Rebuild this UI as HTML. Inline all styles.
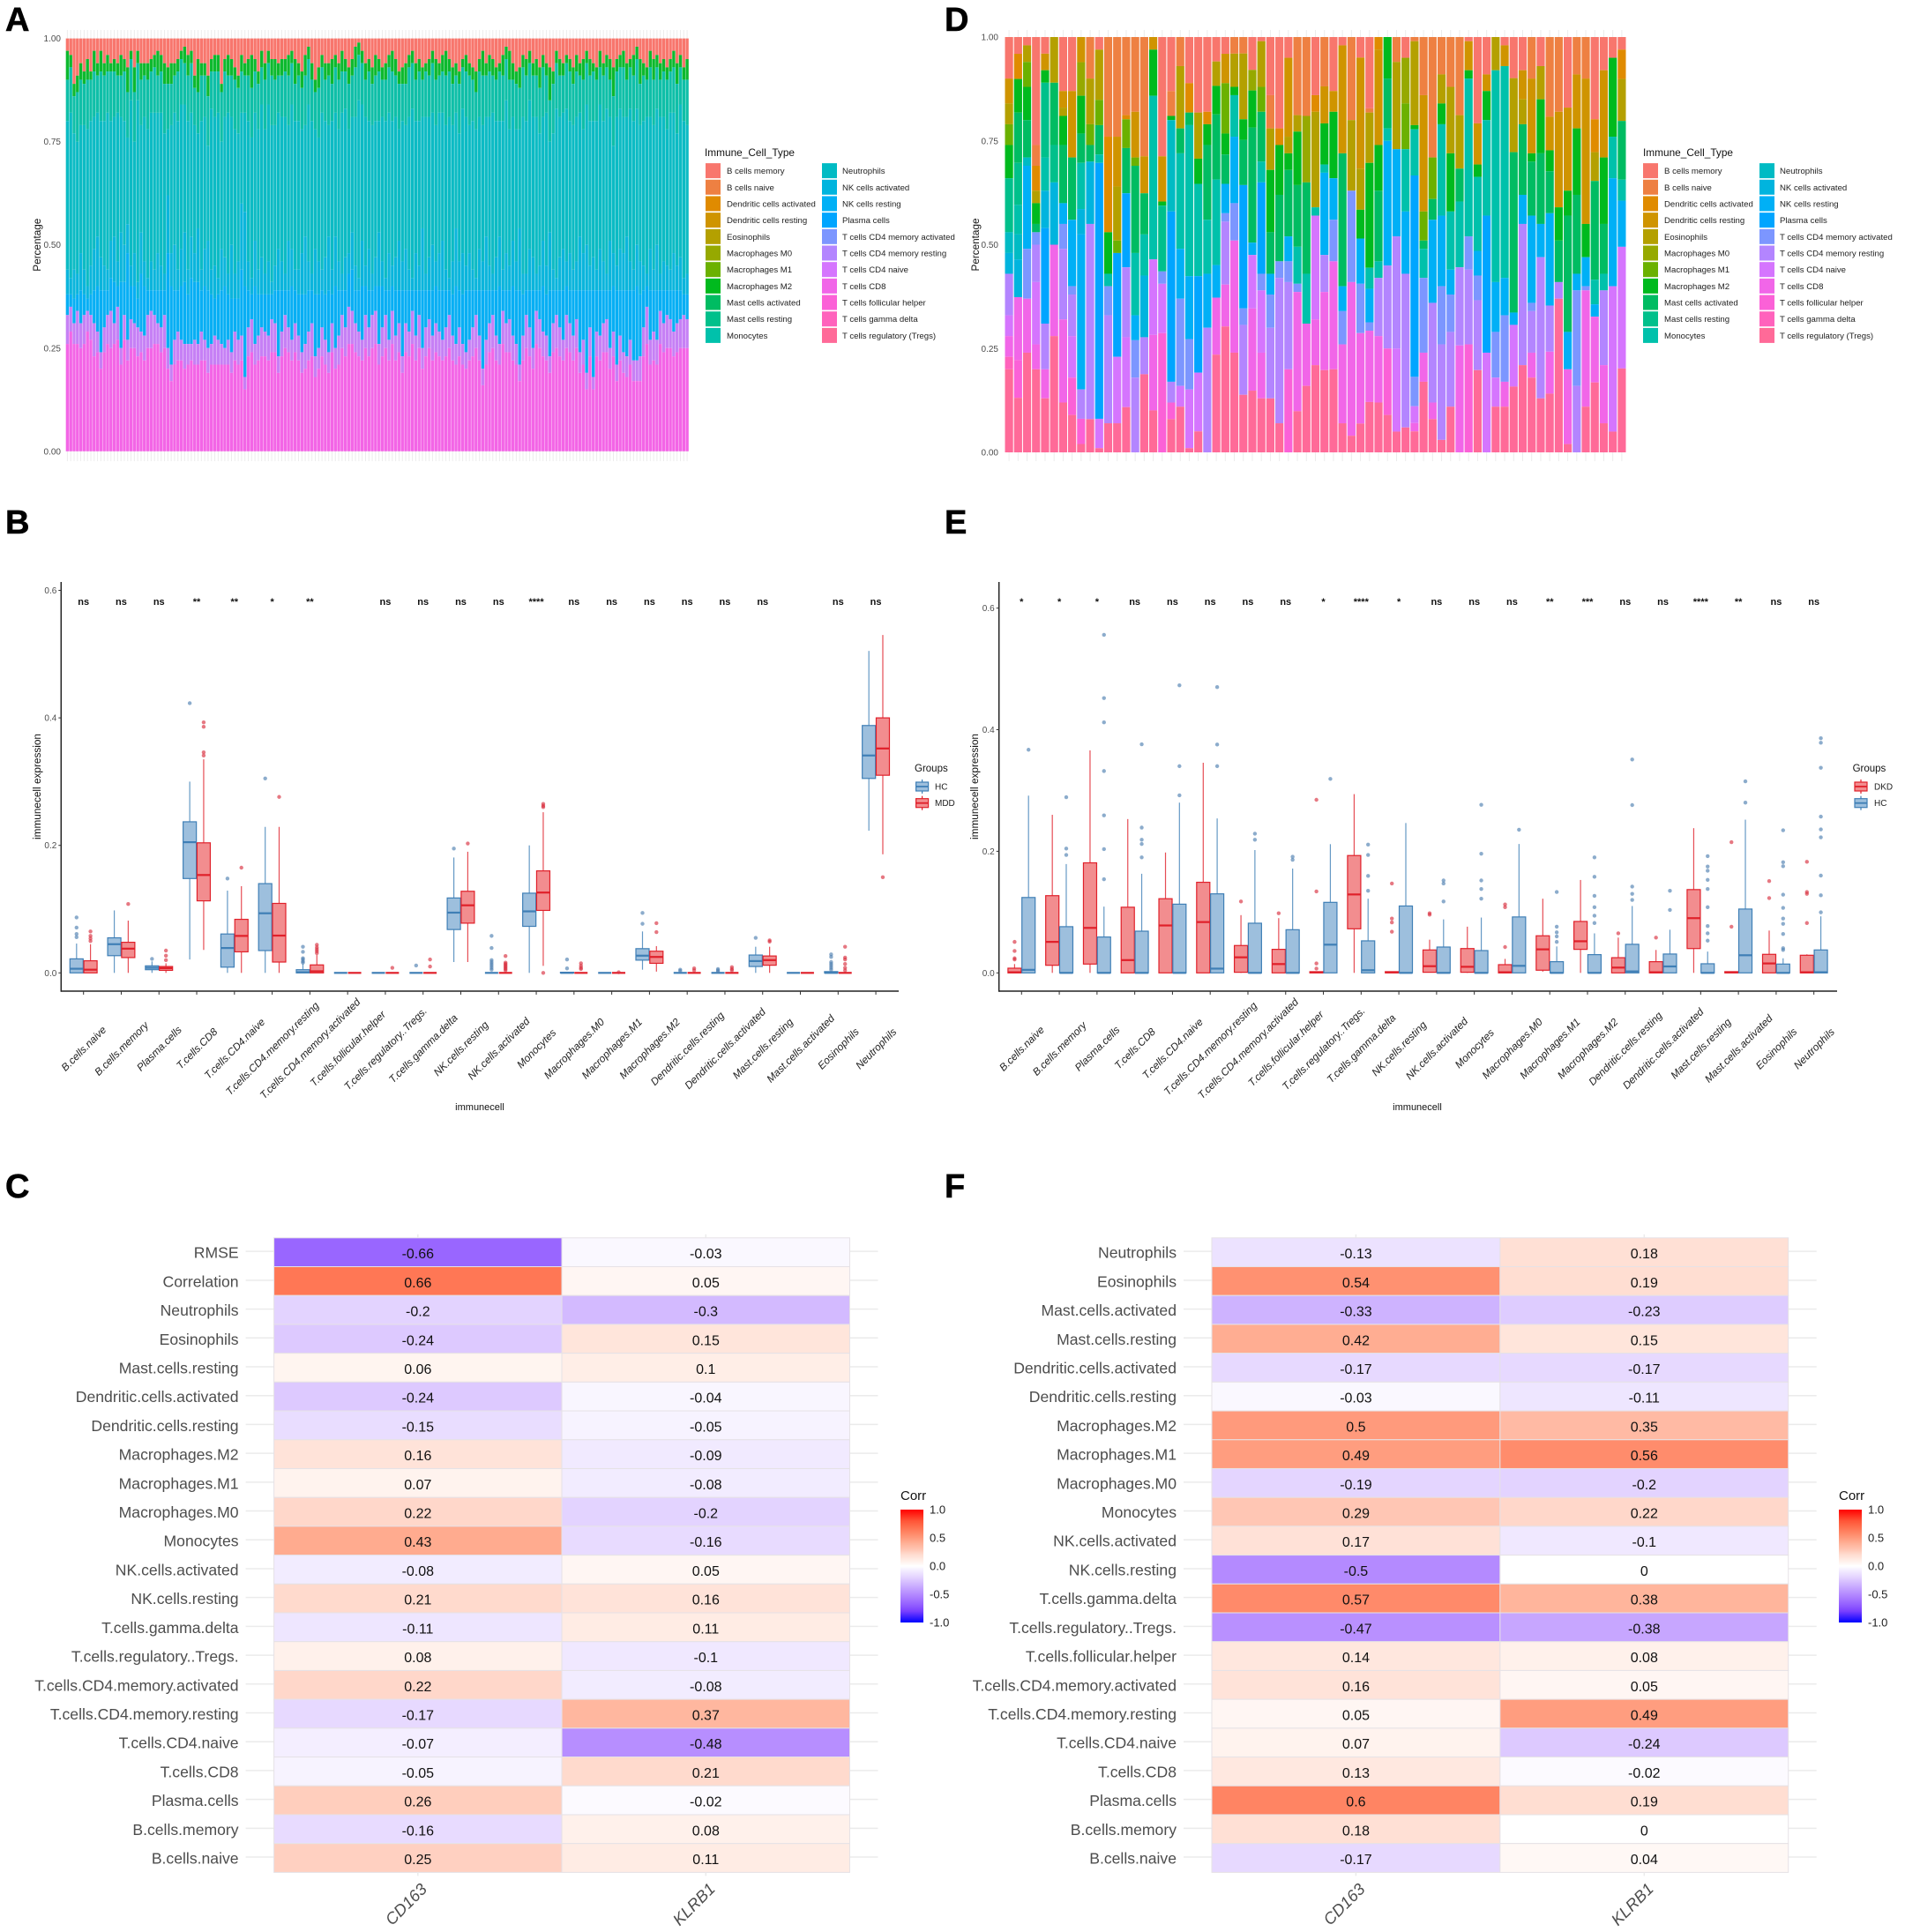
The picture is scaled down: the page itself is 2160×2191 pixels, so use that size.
<!DOCTYPE html>
<html lang="en">
<head>
<meta charset="utf-8">
<title>Immune cell infiltration figure</title>
<style>
html,body{margin:0;padding:0;background:#fff;}
svg{display:block;font-family:"Liberation Sans",sans-serif;}
.panel-letter{font-size:38px;font-weight:bold;fill:#000;stroke:#000;stroke-width:0.6px;}
</style>
</head>
<body>
<svg id="figure" xmlns="http://www.w3.org/2000/svg" width="2160" height="2191" viewBox="0 0 2160 2191">
<rect width="2160" height="2191" fill="#fff"/>
<text class="panel-letter" x="6" y="35">A</text>
<text class="panel-letter" x="1071" y="35">D</text>
<text class="panel-letter" x="6" y="605">B</text>
<text class="panel-letter" x="1071" y="605">E</text>
<text class="panel-letter" x="6" y="1358">C</text>
<text class="panel-letter" x="1071" y="1358">F</text>
</svg>
<script>
/* ===== Legend data for stacked bars ===== */
const cellTypes=["B cells memory","B cells naive","Dendritic cells activated","Dendritic cells resting","Eosinophils","Macrophages M0","Macrophages M1","Macrophages M2","Mast cells activated","Mast cells resting","Monocytes","Neutrophils","NK cells activated","NK cells resting","Plasma cells","T cells CD4 memory activated","T cells CD4 memory resting","T cells CD4 naive","T cells CD8","T cells follicular helper","T cells gamma delta","T cells regulatory (Tregs)"];
const cellColors=["#F8766D","#EE8042","#E08B00","#CF9400","#B4A000","#96A900","#6BB100","#00BA1E","#00BC62","#00C08B","#00C1AB","#00BBC4","#00B4DE","#00B0F6","#00A5FF","#7C96FF","#B385FF","#D575FE","#F166E8","#FB61D7","#FF62BC","#FF6A98"];
const stackTicks=[0,0.25,0.5,0.75,1];
const stackTickLabels=["0.00","0.25","0.50","0.75","1.00"];

/* ===== Panel A series (percent per sample) ===== */
const aMemory=[3,4,11,9,6,8,5,8,3,6,3,6,4,6,5,6,4,5,7,3,
7,3,6,6,6,5,4,3,4,6,7,6,6,5,3,2,4,3,9,5,
6,6,9,5,4,4,11,5,4,5,7,9,4,6,5,4,5,8,3,6,
3,5,5,6,5,5,4,3,5,6,8,4,2,6,10,7,4,6,6,5,
4,6,3,5,7,5,2,1,3,6,5,7,4,5,7,6,4,3,5,8,
7,6,4,3,6,5,7,6,5,3,5,6,4,3,5,7,6,8,5,4,
6,7,8,5,3,6,4,5,7,6,4,2,3,6,8,7,4,5,3,6,
5,7,4,6,7,8,3,5,6,4,5,7,4,6,5,3,5,6,7,3,
6,4,5,7,5,4,3,6,5,4,2,5,6,7,3,5,4,6,5,7,
5,3,6,4,7,5];
const aM2=[7,3,3,4,4,3,5,2,5,3,5,3,4,2,3,3,5,3,6,2,
6,3,4,3,4,3,3,6,4,5,4,5,3,3,2,4,5,3,3,8,
3,3,5,3,4,4,2,3,5,4,3,3,4,3,4,8,3,3,4,4,
3,4,5,3,4,3,5,3,6,3,4,5,3,4,3,5,3,4,3,6,
3,4,5,3,4,4,5,3,3,4,3,4,5,3,3,4,3,5,4,3,
4,5,3,3,4,3,3,2,4,3,5,3,4,6,3,4,3,3,2,4,
3,3,5,3,6,3,4,4,3,2,5,3,7,4,3,5,3,4,3,3,
4,5,3,3,8,3,3,4,3,2,3,4,4,3,5,3,4,2,3,4,
3,3,5,7,3,3,4,4,2,5,3,6,3,3,4,5,3,4,3,3,
3,4,5,3,3,5];
const aMonocytes=[10,11,9,12,11,10,12,10,11,9,12,11,10,12,11,9,10,12,11,10,
12,9,11,10,12,10,11,9,10,12,11,10,9,12,11,10,11,12,9,10,
11,10,12,9,11,10,12,11,9,10,12,11,10,9,11,12,10,11,9,12,
10,12,11,9,10,11,12,10,9,11,10,12,11,10,9,12,11,10,12,9,
11,12,10,9,11,10,12,11,10,9,12,10,11,12,9,10,11,12,10,11,
9,10,12,11,10,12,9,11,10,12,11,9,10,12,11,10,9,12,10,11,
12,10,9,11,12,10,11,9,10,12,11,10,12,9,11,10,12,11,9,10,
10,11,12,9,10,12,11,10,9,11,12,10,11,9,12,10,11,12,10,9,
11,10,9,12,11,10,12,9,10,11,12,10,11,9,12,11,10,9,11,12,
10,11,12,9,10,11];
const aNkActivated=[6,4,7,5,9,6,3,7,10,12,8,6,5,9,11,6,12,9,7,5,
8,4,10,6,3,7,5,9,6,4,14,8,11,5,9,12,6,10,7,13,
5,9,12,6,8,4,10,7,5,13,6,9,16,18,7,4,11,6,9,5,
8,3,6,10,7,4,12,9,5,6,10,14,7,4,11,8,5,9,13,6,
12,7,4,8,5,9,6,3,11,5,10,4,7,13,6,3,9,5,8,12,
7,10,5,3,9,6,15,4,8,11,6,9,12,5,3,8,14,7,10,6,
9,5,3,10,7,13,6,4,8,12,5,9,6,11,7,15,5,4,10,8,
4,6,11,7,14,5,3,8,10,6,9,5,7,13,9,11,6,8,5,10,
7,4,12,8,6,10,9,13,7,5,10,8,6,3,10,5,11,4,7,6,
5,9,6,8,4,5];
const aNkResting=[5,3,6,4,8,5,3,5,8,11,15,9,6,8,10,5,16,8,21,8,
9,7,14,12,6,5,6,8,9,6,23,19,12,10,13,15,12,16,14,15,
10,13,14,12,9,11,13,15,11,13,8,10,16,22,9,6,14,10,8,9,
10,6,8,16,10,6,9,13,8,10,14,12,10,8,15,13,9,11,15,7,
15,11,6,9,8,10,8,10,13,7,9,6,6,14,10,6,12,6,11,8,
16,8,10,5,11,6,14,9,7,11,9,10,12,9,6,10,14,9,12,15,
12,9,6,11,19,12,8,6,11,14,5,8,7,12,13,18,10,6,9,14,
5,7,11,10,16,8,6,9,12,7,8,11,7,15,12,20,9,21,10,11,
8,7,14,11,18,11,15,16,12,17,18,15,9,5,12,10,12,5,8,6,
7,10,8,7,5,6];
const aCd4=[7,6,5,8,6,7,5,6,8,5,4,6,7,9,5,8,4,6,5,7,
6,7,5,6,8,9,7,5,6,8,5,4,6,7,5,6,5,4,6,5,
7,5,6,5,7,6,5,4,6,5,7,6,6,3,7,8,5,6,7,6,
6,8,7,4,6,8,6,5,7,6,5,6,7,8,5,5,7,6,5,7,
5,7,8,7,9,8,7,6,5,8,7,8,8,5,7,8,5,8,6,7,
4,7,6,8,6,8,5,7,7,6,7,6,5,7,8,6,5,7,5,4,
5,7,8,6,4,6,7,8,6,5,8,7,8,6,5,4,6,8,7,5,
8,7,6,6,4,7,8,7,5,8,7,6,7,5,6,4,7,3,6,6,
7,8,5,6,4,6,5,5,6,5,5,6,7,9,6,7,6,8,7,8,
7,6,7,7,8,7];
const aCd8=[26,29,26,26,25,26,29,27,23,24,20,24,26,25,26,27,21,27,22,25,
25,23,24,22,25,25,26,26,24,25,20,17,21,22,22,20,21,22,21,21,
22,22,19,21,21,21,21,21,21,19,22,21,22,15,23,24,21,22,23,23,
22,24,24,19,23,25,24,22,24,22,19,20,22,23,18,20,23,21,19,24,
20,21,25,23,26,26,24,23,22,25,23,25,26,21,23,25,22,26,22,24,
19,24,23,26,22,25,20,23,25,22,24,23,22,23,25,22,21,23,21,20,
22,23,25,22,16,21,24,25,22,21,26,24,24,22,21,17,22,25,23,20,
26,25,23,22,19,24,25,23,22,25,24,22,25,19,21,15,23,15,23,22,
24,24,20,23,17,22,19,18,21,17,17,17,23,26,21,22,21,26,24,25,
25,23,24,25,25,25];

/* ===== Panel D samples: one array per sample, values in cellTypes order (percent) ===== */
const d01=[10,0,0,6,5,0,5,8,0,13,0,5,5,0,0,0,10,5,5,0,3,20];
const d02=[4,0,6,0,0,0,0,8,12,10,7,6,9,0,0,0,0,0,15,9,0,13];
const d03=[2,0,0,0,4,0,6,8,9,0,0,2,0,20,0,12,0,0,13,0,0,24];
const d04=[26,5,6,0,3,0,0,5,2,0,0,0,0,0,0,3,9,15,6,0,0,20];
const d05=[4,0,0,4,0,0,0,3,0,18,8,0,9,0,23,0,11,0,7,0,0,13];
const d06=[0,0,0,0,11,0,0,0,15,9,0,0,15,0,0,0,0,0,22,0,0,28];
const d07=[13,0,0,4,2,0,0,7,14,0,0,0,0,5,0,6,17,0,20,0,0,12];
const d08=[13,0,0,16,0,0,0,0,15,0,0,0,0,16,0,2,10,10,0,9,0,9];
const d09=[0,0,0,6,0,8,0,9,7,0,11,0,6,37,0,0,7,0,0,6,0,2];
const d10=[0,10,0,0,11,0,5,0,4,0,0,0,15,0,0,0,47,0,0,0,0,8];
const d11=[3,0,0,0,12,0,6,0,7,0,2,0,0,0,61,0,0,7,0,0,0,1];
const d12=[0,24,23,0,0,0,0,10,0,0,3,0,0,0,0,7,26,0,0,0,0,7];
const d13=[0,24,0,12,13,0,3,0,0,0,0,0,0,0,25,0,0,16,0,0,0,7];
const d14=[0,19,1,0,0,0,7,0,11,0,0,0,0,0,18,0,17,17,0,0,0,11];
const d15=[0,18,0,11,0,0,2,0,21,0,15,0,0,6,0,9,18,0,0,0,0,0];
const d16=[0,29,0,9,0,0,0,0,10,0,10,0,15,0,0,0,9,0,0,0,0,19];
const d17=[0,0,0,3,0,0,0,11,0,0,39,0,0,0,0,0,0,18,18,0,0,10];
const d18=[29,0,0,11,0,0,0,1,0,16,0,0,0,0,0,3,0,12,0,29,0,0];
const d19=[13,6,0,0,0,0,0,1,0,0,0,22,0,0,41,0,5,0,0,4,0,8];
const d20=[0,7,0,0,15,0,0,0,6,0,23,0,0,12,0,21,0,5,0,0,0,11];
const d21=[11,0,7,0,0,0,0,0,3,0,36,0,0,15,0,12,0,14,0,0,0,1];
const d22=[18,0,0,0,11,0,0,6,0,0,22,0,0,0,23,0,0,14,0,0,0,5];
const d23=[18,0,3,0,0,0,0,5,18,0,13,0,0,13,0,0,30,0,0,0,0,0];
const d24=[6,0,0,0,6,0,0,7,16,0,21,0,0,8,0,0,0,0,14,0,0,24];
const d25=[4,0,0,7,0,0,12,5,7,0,0,0,0,7,0,2,15,0,10,0,0,30];
const d26=[0,4,0,0,8,0,0,2,0,0,10,0,0,16,0,9,0,0,27,0,0,24];
const d27=[0,4,0,0,16,0,0,5,11,0,0,0,0,0,30,4,17,0,0,0,0,14];
const d28=[8,0,0,0,0,5,0,9,28,0,0,0,0,3,0,0,0,13,20,0,0,15];
const d29=[1,0,0,0,11,0,6,0,12,0,5,0,0,0,22,4,0,15,11,0,0,13];
const d30=[14,8,0,0,10,0,0,15,10,0,0,0,0,5,0,8,17,0,0,0,0,13];
const d31=[22,0,4,0,0,0,0,12,16,0,0,0,0,0,0,4,35,0,0,0,0,7];
const d32=[5,0,0,19,4,0,0,4,16,0,0,0,0,6,0,5,21,0,0,20,0,0];
const d33=[0,19,0,0,4,0,0,13,15,0,9,0,0,0,0,2,0,0,29,0,0,10];
const d34=[0,19,0,0,0,16,0,0,22,0,12,0,0,0,0,0,0,0,15,0,0,16];
const d35=[14,0,4,0,23,0,0,0,0,0,2,0,0,0,0,0,0,25,11,0,0,21];
const d36=[0,12,0,9,0,0,0,10,0,0,2,0,0,20,0,0,9,0,19,0,0,20];
const d37=[13,0,0,5,0,0,0,16,0,0,0,0,0,10,0,10,0,0,26,0,0,20];
const d38=[2,0,0,26,0,0,0,0,32,0,0,0,0,6,0,8,0,0,19,0,0,7];
const d39=[0,20,0,0,17,0,0,0,0,0,0,0,0,0,0,22,0,0,37,0,0,4];
const d40=[5,0,0,27,10,0,0,7,0,0,0,0,0,11,0,12,0,0,22,0,0,7];
const d41=[17,1,0,0,12,0,0,25,0,0,5,0,0,8,0,2,0,0,17,0,0,12];
const d42=[0,0,3,23,0,0,0,11,17,0,4,0,0,0,0,0,14,0,16,0,0,12];
const d43=[0,0,0,0,0,0,0,10,12,0,3,0,0,30,0,0,20,0,0,16,0,9];
const d44=[0,6,0,0,21,0,0,0,0,0,0,0,0,21,0,0,27,20,0,0,0,5];
const d45=[5,0,0,0,0,11,11,0,0,0,15,0,0,15,0,0,37,0,0,0,0,6];
const d46=[0,1,0,0,20,0,0,1,0,0,11,0,0,0,48,7,0,4,2,0,0,5];
const d47=[0,14,0,28,0,0,7,0,2,0,7,0,0,0,0,18,0,0,7,0,0,17];
const d48=[0,29,0,0,0,0,10,0,5,0,0,0,0,20,0,0,24,0,4,0,0,8];
const d49=[0,9,0,0,7,0,0,5,0,0,22,0,0,17,0,14,23,0,0,0,0,3];
const d50=[0,12,0,0,16,0,0,14,0,0,14,0,0,6,0,9,18,0,0,0,0,11];
const d51=[0,19,0,0,13,0,0,0,8,0,16,0,0,0,0,0,19,0,26,0,0,0];
const d52=[1,0,0,7,0,0,0,2,0,0,38,0,0,0,0,8,18,0,0,26,0,0];
const d53=[21,0,0,10,0,0,0,3,0,0,18,0,0,6,0,6,17,0,0,0,0,20];
const d54=[9,0,0,4,0,0,0,7,0,0,23,0,0,0,33,0,0,24,0,0,0,0];
const d55=[0,0,0,0,8,0,0,0,0,0,51,0,0,12,0,11,0,7,0,0,0,11];
const d56=[2,0,0,5,0,0,0,0,0,0,51,0,0,9,0,16,0,0,6,0,0,11];
const d57=[10,0,0,0,18,0,0,0,39,0,0,0,0,3,0,0,0,15,0,0,0,16];
const d58=[8,0,0,7,6,0,0,0,17,0,0,0,0,7,0,0,34,0,0,0,0,21];
const d59=[0,10,0,18,0,0,0,2,13,0,0,0,0,21,0,2,10,0,6,0,0,18];
const d60=[7,0,0,0,8,0,0,13,17,0,0,0,0,8,0,0,34,0,0,0,0,13];
const d61=[0,19,0,8,0,0,0,5,10,0,0,0,0,22,0,0,11,0,10,0,0,14];
const d62=[0,18,0,23,0,0,0,8,10,0,0,0,0,0,0,0,4,0,0,0,0,37];
const d63=[17,0,0,20,0,0,0,6,28,0,0,0,0,9,0,0,0,0,18,0,0,2];
const d64=[0,9,0,13,0,0,0,16,19,0,0,0,0,4,0,23,16,0,0,0,0,0];
const d65=[0,10,0,35,0,0,0,8,0,0,0,0,0,7,0,1,0,0,28,0,0,11];
const d66=[20,0,8,0,7,0,0,0,24,0,6,0,0,3,0,0,0,0,16,0,0,17];
const d67=[8,0,0,21,0,0,0,16,12,0,4,0,0,0,0,0,18,0,14,0,0,7];
const d68=[5,0,0,0,0,0,0,19,0,0,10,0,0,26,0,0,0,35,0,0,0,5];
const d69=[3,0,7,0,10,0,0,0,14,0,5,0,0,11,0,0,0,29,0,0,0,20];
const dSamples=[d01,d02,d03,d04,d05,d06,d07,d08,d09,d10,d11,d12,d13,d14,d15,d16,d17,d18,d19,d20,d21,d22,d23,d24,d25,d26,d27,d28,d29,d30,d31,d32,d33,d34,d35,d36,d37,d38,d39,d40,d41,d42,d43,d44,d45,d46,d47,d48,d49,d50,d51,d52,d53,d54,d55,d56,d57,d58,d59,d60,d61,d62,d63,d64,d65,d66,d67,d68,d69];

/* ===== Box plot data ===== */
const boxCategories=["B.cells.naive","B.cells.memory","Plasma.cells","T.cells.CD8","T.cells.CD4.naive","T.cells.CD4.memory.resting","T.cells.CD4.memory.activated","T.cells.follicular.helper","T.cells.regulatory..Tregs.","T.cells.gamma.delta","NK.cells.resting","NK.cells.activated","Monocytes","Macrophages.M0","Macrophages.M1","Macrophages.M2","Dendritic.cells.resting","Dendritic.cells.activated","Mast.cells.resting","Mast.cells.activated","Eosinophils","Neutrophils"];
const bTicks=[0,0.2,0.4,0.6];
const bTickLabels=["0.0","0.2","0.4","0.6"];
const bSignificance=["ns","ns","ns","**","**","*","**","","ns","ns","ns","ns","****","ns","ns","ns","ns","ns","ns","","ns","ns"];
const bHcLow=[0,0,0,.021,0,0,0,0,0,0,.017,0,0,0,0,.005,0,0,0,0,0,.223];
const bHcQ1=[0,.027,.005,.148,.009,.035,0,0,0,0,.068,0,.073,0,0,.02,0,0,.01,0,0,.305];
const bHcMed=[.0065,.045,.008,.205,.039,.0935,.001,0,0,0,.0945,0,.0965,0,0,.027,0,0,.0185,0,0,.341];
const bHcQ3=[.022,.055,.011,.237,.061,.14,.005,0,0,0,.1175,0,.125,.001,0,.038,0,0,.028,0,.002,.388];
const bHcHigh=[.046,.098,.018,.30,.129,.229,.014,0,0,0,.181,0,.20,.001,0,.065,0,0,.041,0,.002,.505];
const bHcOut=[[.087,.071,.061,.056],[],[.022],[.423],[.148],[.305],[.041,.033,.023,.021,.018,.016],[],[],[.0115],[.195],[.058,.039,.02,.017,.014,.011,.008,.005],[],[.021,.007],[],[.094,.077],[.005,.003],[.006,.004,.002],[.055],[],[.029,.025,.017,.014,.011,.008,.005],[]];
const bMddLow=[0,0,0,.036,0,0,0,0,0,0,.017,0,.011,0,0,.002,0,0,0,0,0,.186];
const bMddQ1=[0,.024,.004,.113,.033,.017,0,0,0,0,.078,0,.098,0,0,.015,0,0,.012,0,0,.31];
const bMddMed=[.005,.038,.0075,.1535,.058,.0585,.0025,0,0,0,.106,0,.126,0,0,.025,0,0,.02,0,0,.352];
const bMddQ3=[.019,.048,.01,.204,.084,.109,.0125,0,0,0,.128,0,.16,0,0,.034,0,0,.0265,0,0,.40];
const bMddHigh=[.045,.082,.015,.335,.136,.229,.028,0,0,0,.19,0,.252,0,0,.042,0,0,.041,0,0,.53];
const bMddOut=[[.065,.058,.054,.05],[.108],[.035,.027,.02],[.393,.386,.346,.341],[.165],[.276],[.044,.04,.037,.034,.031],[],[.008],[.021,.01],[.203],[.0265,.016,.014,.012,.01,.008,.006,.004],[.265,.262,.26,0],[.015,.011,.008,.006],[.001],[.078,.064],[.007,.004],[.009,.006,.004],[.051,.049],[],[.041,.024,.021,.014,.008,.004],[.15]];

const eTicks=[0,0.2,0.4,0.6];
const eTickLabels=["0.0","0.2","0.4","0.6"];
const eSignificance=["*","*","*","ns","ns","ns","ns","ns","*","****","*","ns","ns","ns","**","***","ns","ns","****","**","ns","ns"];
const eDkdLow=[0,0,0,0,0,0,0,0,0,0,0,.001,0,0,.002,0,0,0,0,0,0,0];
const eDkdQ1=[0,.0125,.0145,0,0,0,.001,0,0,.0725,0,.001,.001,0,.0044,.0387,0,0,.04,0,0,0];
const eDkdMed=[.001,.051,.074,.021,.078,.0836,.0256,.0145,.001,.129,.001,.011,.01,.001,.0387,.052,.0087,.001,.09,.001,.0155,.001];
const eDkdQ3=[.0077,.127,.181,.108,.122,.149,.045,.0387,.002,.193,.002,.0377,.04,.0135,.061,.0846,.025,.0184,.137,.002,.0305,.029];
const eDkdHigh=[.0145,.26,.366,.253,.198,.3457,.095,.09,.002,.294,.002,.0546,.076,.023,.122,.1528,.058,.0377,.238,.002,.0696,.0305];
const eDkdOut=[[.051,.036,.024,.022],[],[],[],[],[],[.1175],[.098],[.2847,.134,.0155,.007],[],[.147,.0894,.083,.0677],[.098,.0957],[],[.1126,.108,.0425],[],[],[.065],[.058],[],[.215,.076],[.151,.123],[.1827,.133,.13,.082]];
const eHcLow=[0,0,0,0,0,0,0,0,0,0,0,0,0,0,0,0,0,0,0,0,0,0];
const eHcQ1=[0,0,0,0,0,0,0,0,0,0,0,0,0,0,0,0,0,0,0,0,0,0];
const eHcMed=[.005,0,0,0,0,.007,0,0,.0464,.0044,0,0,0,.0116,0,0,.0024,.0106,0,.029,0,.001];
const eHcQ3=[.124,.076,.059,.0686,.113,.13,.0817,.071,.116,.0527,.11,.0425,.0367,.092,.0184,.03,.047,.031,.015,.105,.0145,.0377];
const eHcHigh=[.2915,.179,.109,.163,.28,.254,.202,.1716,.2117,.122,.2465,.088,.091,.212,.0435,.065,.11,.071,.035,.252,.024,.093];
const eHcOut=[[.367],[.289,.2045,.194],[.556,.452,.412,.332,.259,.2035,.154],[.376,.239,.219,.212,.19],[.473,.34,.292],[.47,.3756,.34],[.229,.219],[.191,.186],[.319],[.211,.194,.1595,.135],[],[.152,.147,.1175],[.2765,.196,.152,.138,.122],[.2354],[.133,.076,.0667,.06,.051],[.19,.158,.1267,.108,.094,.082],[.351,.276,.142,.13,.12],[.135,.1035],[.192,.175,.168,.153,.138,.108,.077,.065,.053],[.315,.28],[.2345,.182,.1755,.1286,.107,.0894,.0807,.064,.0406,.0377],[.386,.3785,.3374,.257,.236,.223,.16,.1276,.0996]];

/* ===== Heatmap data ===== */
const heatGenes=["CD163","KLRB1"];
const legendBreaks=[1,0.5,0,-0.5,-1];
const legendBreakLabels=["1.0","0.5","0.0","-0.5","-1.0"];
const cRows=["RMSE","Correlation","Neutrophils","Eosinophils","Mast.cells.resting","Dendritic.cells.activated","Dendritic.cells.resting","Macrophages.M2","Macrophages.M1","Macrophages.M0","Monocytes","NK.cells.activated","NK.cells.resting","T.cells.gamma.delta","T.cells.regulatory..Tregs.","T.cells.CD4.memory.activated","T.cells.CD4.memory.resting","T.cells.CD4.naive","T.cells.CD8","Plasma.cells","B.cells.memory","B.cells.naive"];
const cCd163=[-0.66,0.66,-0.2,-0.24,0.06,-0.24,-0.15,0.16,0.07,0.22,0.43,-0.08,0.21,-0.11,0.08,0.22,-0.17,-0.07,-0.05,0.26,-0.16,0.25];
const cKlrb1=[-0.03,0.05,-0.3,0.15,0.1,-0.04,-0.05,-0.09,-0.08,-0.2,-0.16,0.05,0.16,0.11,-0.1,-0.08,0.37,-0.48,0.21,-0.02,0.08,0.11];
const fRows=["Neutrophils","Eosinophils","Mast.cells.activated","Mast.cells.resting","Dendritic.cells.activated","Dendritic.cells.resting","Macrophages.M2","Macrophages.M1","Macrophages.M0","Monocytes","NK.cells.activated","NK.cells.resting","T.cells.gamma.delta","T.cells.regulatory..Tregs.","T.cells.follicular.helper","T.cells.CD4.memory.activated","T.cells.CD4.memory.resting","T.cells.CD4.naive","T.cells.CD8","Plasma.cells","B.cells.memory","B.cells.naive"];
const fCd163=[-0.13,0.54,-0.33,0.42,-0.17,-0.03,0.5,0.49,-0.19,0.29,0.17,-0.5,0.57,-0.47,0.14,0.16,0.05,0.07,0.13,0.6,0.18,-0.17];
const fKlrb1=[0.18,0.19,-0.23,0.15,-0.17,-0.11,0.35,0.56,-0.2,0.22,-0.1,0,0.38,-0.38,0.08,0.05,0.49,-0.24,-0.02,0.19,0,0.04];

/* ===== Drawing helpers ===== */
const NS="http://www.w3.org/2000/svg";
const root=document.getElementById('figure');
function add(parent,tag,attrs,content){
  const n=document.createElementNS(NS,tag);
  for(const k in attrs){n.setAttribute(k,attrs[k]);}
  if(content!==undefined){n.textContent=content;}
  parent.appendChild(n);
  return n;
}
function group(name,parent){
  const g=add(parent||root,'g',{});
  
  
  return g;
}
function label(parent,name,x,y,str,opts){
  const t=add(parent,'text',Object.assign({x:x,y:y},opts),str);
  
  
  return t;
}
function linearScale(d0,d1,r0,r1){return v=>r0+(v-d0)/(d1-d0)*(r1-r0);}

/* ===== Stacked bar panels ===== */
function stackAxis(g,yScale,tickRight,titleX){
  stackTicks.forEach((tick,i)=>{
    label(g,'y-tick-label',tickRight,yScale(tick)+3.5,stackTickLabels[i],{'text-anchor':'end','font-size':'10','fill':'#4d4d4d'});
  });
  const cy=yScale(0.5);
  label(g,'y-axis-title',0,0,'Percentage',{'text-anchor':'middle','font-size':'11.5','fill':'#111','transform':'translate('+titleX+','+cy+') rotate(-90)','textLength':'60','lengthAdjust':'spacingAndGlyphs'});
}
function stackGrid(g,xCenter,n){
  for(let i=0;i<n;i++){
    const ln=add(g,'line',{x1:xCenter(i),x2:xCenter(i),y1:34,y2:523,stroke:'#ececec','stroke-width':1});
    
    
  }
}
function stackLegend(g,keyX1,labelX1,keyX2,labelX2,titleX){
  label(g,'legend-title',titleX,177,'Immune_Cell_Type',{'font-size':'12','fill':'#111','textLength':'102','lengthAdjust':'spacingAndGlyphs'});
  const rowPitch=18.68;
  cellTypes.forEach((name,i)=>{
    const col=i<11?0:1;
    const row=i<11?i:i-11;
    const cy=193.6+row*rowPitch;
    const kx=col?keyX2:keyX1;
    const lx=col?labelX2:labelX1;
    const key=add(g,'rect',{x:kx,y:cy-8.5,width:17,height:17,fill:cellColors[i]});
    
    
    label(g,'legend-entry',lx,cy+3.5,name,{'font-size':'9.6','fill':'#222'});
  });
}
(function drawA(){
  const g=group('panel-a-stacked-bar');
  const n=aCd8.length;
  const pitch=(781-74.5)/n;
  const xCenter=i=>74.5+pitch*(i+0.5);
  const yScale=linearScale(0,1,511.8,43.6);
  stackGrid(g,xCenter,n);
  const seriesColor=[cellColors[0],'#0DB92E','#0FBFA8','#0CBBC4','#0BB5DC','#08AFF4','#C680F5','#F365E6'];
  for(let i=0;i<n;i++){
    const others=[aMemory[i]||0,aM2[i]||0,aMonocytes[i]||0,0,aNkActivated[i]||0,aNkResting[i]||0,aCd4[i]||0,aCd8[i]||0];
    others[3]=Math.max(0,100-others.reduce((s,v)=>s+v,0));
    let top=1;
    others.forEach((v,k)=>{
      const frac=v/100;
      const r=add(g,'rect',{x:xCenter(i)-pitch*0.45,width:pitch*0.9,y:yScale(top),height:yScale(top-frac)-yScale(top),fill:seriesColor[k]});
      
      
      top-=frac;
    });
  }
  stackAxis(g,yScale,69,46);
  stackLegend(g,800,824,932,955,799);
})();
(function drawD(){
  const g=group('panel-d-stacked-bar');
  const n=dSamples.length;
  const pitch=(1844-1139)/n;
  const xCenter=i=>1139+pitch*(i+0.5);
  const yScale=linearScale(0,1,513,42);
  stackGrid(g,xCenter,n);
  dSamples.forEach((sample,i)=>{
    const total=sample.reduce((s,v)=>s+v,0);
    let top=1;
    sample.forEach((v,k)=>{
      if(v<=0){return;}
      const frac=v/total;
      const r=add(g,'rect',{x:xCenter(i)-pitch*0.45,width:pitch*0.9,y:yScale(top),height:yScale(top-frac)-yScale(top),fill:cellColors[k]});
      
      
      top-=frac;
    });
  });
  stackAxis(g,yScale,1132,1110);
  stackLegend(g,1863,1887,1995,2018,1863);
})();

/* ===== Box plot panels ===== */
function drawBoxGroup(g,cx,yScale,s,color,fill,outFill){
  const bw=15;
  const whisker=(a,b)=>{
    const w=add(g,'line',{x1:cx,x2:cx,y1:yScale(a),y2:yScale(b),stroke:color,'stroke-width':1.2,'stroke-opacity':0.8});
    
    
  };
  whisker(s.q3,s.high);
  whisker(s.q1,s.low);
  const box=add(g,'rect',{x:cx-bw/2,width:bw,y:yScale(s.q3),height:Math.max(0,yScale(s.q1)-yScale(s.q3)),fill:fill,stroke:color,'stroke-width':1.2});
  
  
  const med=add(g,'line',{x1:cx-bw/2,x2:cx+bw/2,y1:yScale(s.med),y2:yScale(s.med),stroke:color,'stroke-width':2.2});
  
  
  s.out.forEach(v=>{
    const c=add(g,'circle',{cx:cx,cy:yScale(v),r:2.2,fill:outFill,'fill-opacity':0.65});
    
    
  });
}
function drawBoxPanel(cfg){
  const g=group(cfg.name);
  const yScale=linearScale(0,0.6,1103.3,cfg.y06);
  const xScale=i=>cfg.x0+i*42.78;
  const axL=add(g,'line',{x1:cfg.axisX,x2:cfg.axisX,y1:660,y2:1124.8,stroke:'#222','stroke-width':1.5});
  
  
  const axB=add(g,'line',{x1:cfg.axisX,x2:cfg.axisR,y1:1124,y2:1124,stroke:'#222','stroke-width':1.5});
  
  
  cfg.ticks.forEach((tick,i)=>{
    const y=yScale(tick);
    const tk=add(g,'line',{x1:cfg.axisX-3,x2:cfg.axisX,y1:y,y2:y,stroke:'#333','stroke-width':1});
    
    
    label(g,'y-tick-label',cfg.axisX-5,y+3.5,cfg.tickLabels[i],{'text-anchor':'end','font-size':'10','fill':'#4d4d4d'});
  });
  label(g,'y-axis-title',0,0,'immunecell expression',{'text-anchor':'middle','font-size':'11.5','fill':'#111','transform':'translate('+cfg.titleX+',892) rotate(-90)','textLength':'120','lengthAdjust':'spacingAndGlyphs'});
  label(g,'x-axis-title',cfg.xTitleX,1259,'immunecell',{'text-anchor':'middle','font-size':'11','fill':'#111'});
  boxCategories.forEach((cat,i)=>{
    const x=xScale(i);
    const tk=add(g,'line',{x1:x,x2:x,y1:1124,y2:1128,stroke:'#333','stroke-width':1});
    
    
    label(g,'x-tick-label',0,0,cat,{'text-anchor':'middle','font-size':'11.8','font-style':'italic','fill':'#222','transform':'translate('+(x+3)+',1192) rotate(-45)'});
    if(cfg.sig[i]){
      label(g,'significance-label',x,686,cfg.sig[i],{'text-anchor':'middle','font-size':'11','font-weight':'bold','fill':'#111'});
    }
    const a=cfg.left,b=cfg.right;
    drawBoxGroup(g,x-7.9,yScale,{low:a.low[i],q1:a.q1[i],med:a.med[i],q3:a.q3[i],high:a.high[i],out:a.out[i]},a.color,a.fill,a.outFill);
    drawBoxGroup(g,x+7.9,yScale,{low:b.low[i],q1:b.q1[i],med:b.med[i],q3:b.q3[i],high:b.high[i],out:b.out[i]},b.color,b.fill,b.outFill);
  });
  label(g,'legend-title',cfg.legTitleX,875,'Groups',{'font-size':'11.5','fill':'#111'});
  [cfg.left,cfg.right].forEach((s,k)=>{
    const cy=892+k*18.7;
    const kx=cfg.legKeyX;
    const wh=add(g,'line',{x1:kx,x2:kx,y1:cy-8,y2:cy+8,stroke:s.color,'stroke-width':1.2});
    
    
    const bx=add(g,'rect',{x:kx-7,y:cy-5,width:14,height:10,fill:s.fill,stroke:s.color,'stroke-width':1.2});
    
    
    const md=add(g,'line',{x1:kx-7,x2:kx+7,y1:cy,y2:cy,stroke:s.color,'stroke-width':1.8});
    
    
    label(g,'legend-entry',cfg.legLabelX,cy+3.5,s.label,{'font-size':'10','fill':'#222'});
  });
}
const blueStyle={color:'#3F7FB6',fill:'#9DBFDD',outFill:'#4F80B0'};
const redStyle={color:'#E0202A',fill:'#F28D8F',outFill:'#D9303F'};
drawBoxPanel({name:'panel-b-boxplot',x0:94.7,axisX:69.3,axisR:1019,y06:669.5,ticks:bTicks,tickLabels:bTickLabels,sig:bSignificance,titleX:46,xTitleX:544,legTitleX:1037,legKeyX:1045.6,legLabelX:1060,
  left:Object.assign({label:'HC',low:bHcLow,q1:bHcQ1,med:bHcMed,q3:bHcQ3,high:bHcHigh,out:bHcOut},blueStyle),
  right:Object.assign({label:'MDD',low:bMddLow,q1:bMddQ1,med:bMddMed,q3:bMddQ3,high:bMddHigh,out:bMddOut},redStyle)});
drawBoxPanel({name:'panel-e-boxplot',x0:1158.3,axisX:1132.7,axisR:2083,y06:689.6,ticks:eTicks,tickLabels:eTickLabels,sig:eSignificance,titleX:1109,xTitleX:1607,legTitleX:2100.6,legKeyX:2110,legLabelX:2125,
  left:Object.assign({label:'DKD',low:eDkdLow,q1:eDkdQ1,med:eDkdMed,q3:eDkdQ3,high:eDkdHigh,out:eDkdOut},redStyle),
  right:Object.assign({label:'HC',low:eHcLow,q1:eHcQ1,med:eHcMed,q3:eHcQ3,high:eHcHigh,out:eHcOut},blueStyle)});

/* ===== Heatmap panels ===== */
const corrStops=[[-1,[0,0,255]],[-0.8,[122,64,255]],[-0.66,[153,102,255]],[-0.48,[183,142,255]],[-0.3,[211,186,255]],[-0.2,[227,211,255]],[-0.08,[242,236,255]],[0,[255,255,255]],[0.08,[255,241,235]],[0.2,[255,220,208]],[0.3,[255,196,177]],[0.43,[255,171,143]],[0.56,[255,140,108]],[0.66,[255,119,85]],[0.8,[255,85,55]],[1,[255,0,0]]];
function corrColor(v){
  for(let i=1;i<corrStops.length;i++){
    if(v<=corrStops[i][0]){
      const a=corrStops[i-1],b=corrStops[i];
      const t=(v-a[0])/(b[0]-a[0]);
      const c=a[1].map((ch,k)=>Math.round(ch+(b[1][k]-ch)*t));
      return 'rgb('+c.join(',')+')';
    }
  }
  return 'rgb(255,0,0)';
}
let gradientId=0;
function drawHeatmap(cfg){
  const g=group(cfg.name);
  const top=1403.8,bottom=2123.4;
  const rowH=(bottom-top)/cfg.rows.length;
  const colW=(cfg.right-cfg.left)/2;
  const xBand=j=>cfg.left+j*colW;
  const yBand=i=>top+i*rowH;
  cfg.rows.forEach((row,i)=>{
    const cy=yBand(i)+rowH/2;
    const t1=add(g,'line',{x1:cfg.left-32,x2:cfg.left,y1:cy-1,y2:cy-1,stroke:'#ebebeb','stroke-width':1.5});
    
    
    const t2=add(g,'line',{x1:cfg.right,x2:cfg.right+32,y1:cy-1,y2:cy-1,stroke:'#ebebeb','stroke-width':1.5});
    
    
    label(g,'row-label',cfg.left-40,cy+6.5,row,{'text-anchor':'end','font-size':'17.6','fill':'#4d4d4d'});
    [cfg.col1,cfg.col2].forEach((vals,j)=>{
      const v=vals[i];
      const c=add(g,'rect',{x:xBand(j),y:yBand(i),width:colW,height:rowH,fill:corrColor(v),stroke:'#e6e2e6','stroke-width':1});
      
      
      label(g,'cell-value',xBand(j)+colW/2,cy+7,String(v),{'text-anchor':'middle','font-size':'16','fill':'#111'});
    });
  });
  heatGenes.forEach((gene,j)=>{
    const cx=xBand(j)+colW/2;
    const v1=add(g,'line',{x1:cx,x2:cx,y1:top-4,y2:top,stroke:'#ebebeb','stroke-width':1.5});
    
    
    const v2=add(g,'line',{x1:cx,x2:cx,y1:bottom,y2:bottom+4,stroke:'#ebebeb','stroke-width':1.5});
    
    
    label(g,'column-label',0,0,gene,{'text-anchor':'middle','font-size':'18.5','font-style':'italic','fill':'#4d4d4d','transform':'translate('+(cx-9)+',2164) rotate(-45)'});
  });
  label(g,'legend-title',cfg.barX,1701,'Corr',{'font-size':'15','fill':'#111'});
  const id='corr-gradient-'+(gradientId++);
  const defs=add(g,'defs',{});
  const grad=add(defs,'linearGradient',{id:id,x1:0,y1:0,x2:0,y2:1});
  for(let k=0;k<=20;k++){
    add(grad,'stop',{offset:(k*5)+'%','stop-color':corrColor(1-k/10)});
  }
  const bar=add(g,'rect',{x:cfg.barX,y:1712,width:26,height:128,fill:'url(#'+id+')'});
  
  
  const yLegend=linearScale(-1,1,1840,1712);
  legendBreaks.forEach((b,i)=>{
    label(g,'colorbar-tick-label',cfg.barX+33,yLegend(b)+4.5,legendBreakLabels[i],{'font-size':'13','fill':'#222'});
  });
}
drawHeatmap({name:'panel-c-heatmap',left:310.6,right:963.5,rows:cRows,col1:cCd163,col2:cKlrb1,barX:1021});
drawHeatmap({name:'panel-f-heatmap',left:1374,right:2027.7,rows:fRows,col1:fCd163,col2:fKlrb1,barX:2085});
</script>
</body>
</html>
